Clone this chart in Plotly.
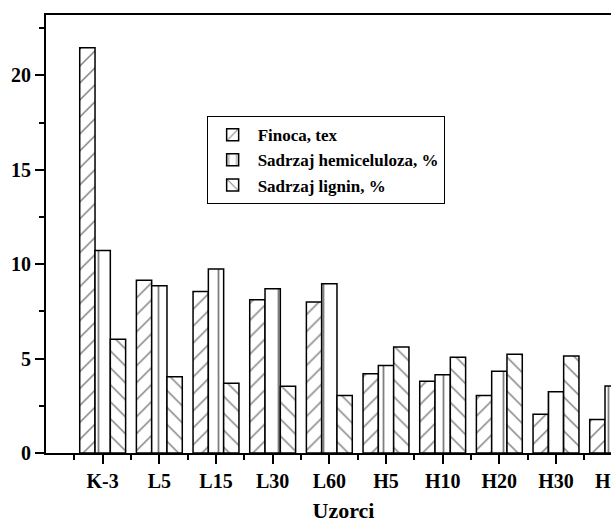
import plotly.graph_objects as go

categories = ["K-3", "L5", "L15", "L30", "L60", "H5", "H10", "H20", "H30", "H60"]
finoca = [21.47, 9.15, 8.56, 8.12, 8.00, 4.20, 3.80, 3.04, 2.05, 1.78]
hemiceluloza = [10.72, 8.86, 9.75, 8.70, 8.97, 4.64, 4.15, 4.33, 3.25, 3.55]
lignin = [6.02, 4.04, 3.69, 3.53, 3.04, 5.61, 5.07, 5.23, 5.14, 4.90]

series = [
    ("Finoca, tex", finoca, "/"),
    ("Sadrzaj hemiceluloza, %", hemiceluloza, "|"),
    ("Sadrzaj lignin, %", lignin, "\\"),
]

FONT = "Liberation Serif"
xpos = list(range(len(categories)))

fig = go.Figure()
for name, vals, shp in series:
    fig.add_trace(go.Bar(
        x=xpos, y=vals, name=name,
        marker=dict(
            color="white",
            line=dict(color="black", width=1.5),
            pattern=dict(shape=shp, fgcolor="black", bgcolor="white",
                         size=12 if shp != "|" else 15, solidity=0.12),
        ),
    ))

fig.update_layout(
    width=651, height=523,
    margin=dict(l=46, r=10, t=15, b=70),
    paper_bgcolor="white", plot_bgcolor="white",
    barmode="group", bargap=0.19, bargroupgap=0,
    font=dict(family=FONT, size=20, color="black", weight="bold"),
    showlegend=True,
    legend=dict(
        x=0.27, y=0.769, xanchor="left", yanchor="top",
        bgcolor="white", bordercolor="black", borderwidth=1,
        font=dict(family=FONT, size=17, color="black", weight="bold"),
        tracegroupgap=0, itemwidth=40,
    ),
    xaxis=dict(
        range=[-1, 9.5], automargin=False,
        tickmode="array", tickvals=xpos, ticktext=categories,
        ticks="outside", ticklen=9, tickwidth=1.5, tickcolor="black",
        minor=dict(ticks="outside", ticklen=5, tickwidth=1.5, tickcolor="black",
                   tickvals=[v - 0.5 for v in xpos] + [len(xpos) - 0.5]),
        showline=True, linecolor="black", linewidth=2, mirror=True,
        showgrid=False, zeroline=False,
        title=dict(text="Uzorci", font=dict(family=FONT, size=22, weight="bold"), standoff=13),
    ),
    yaxis=dict(
        range=[0, 23.2], automargin=False,
        tickvals=[0, 5, 10, 15, 20],
        ticks="outside", ticklen=9, tickwidth=1.5, tickcolor="black",
        minor=dict(ticks="outside", ticklen=5, tickwidth=1.5, tickcolor="black", dtick=2.5, tick0=0),
        showline=True, linecolor="black", linewidth=2, mirror=True,
        showgrid=False, zeroline=False,
    ),
)

fig.write_html(
    "out.html",
    config={"displayModeBar": False},
    post_script="document.documentElement.style.overflow='hidden';document.body.style.overflow='hidden';document.body.style.margin='0';",
)
